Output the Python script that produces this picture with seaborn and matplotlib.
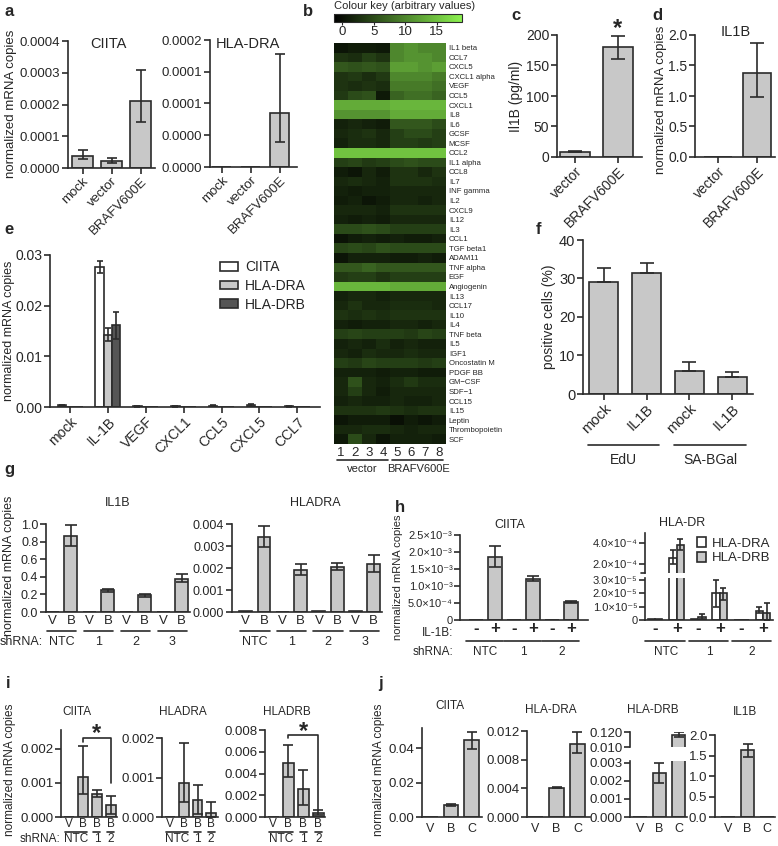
import matplotlib
matplotlib.use('Agg')
import matplotlib.pyplot as plt
from matplotlib.colors import LinearSegmentedColormap
from matplotlib.lines import Line2D
from matplotlib.patches import Patch
from matplotlib.transforms import blended_transform_factory
import seaborn as sns
import pandas as pd

# ---------------- data ----------------
# a
a_groups = ['mock', 'vector', 'BRAFV600E']
a_ciita = [0.000038, 0.000022, 0.00021]
a_ciita_lo = [0.000028, 0.000016, 0.000145]
a_ciita_hi = [0.000057, 0.000031, 0.00031]
a_hladra = [0, 0, 0.000085]
a_hladra_lo = [0, 0, 0.000039]
a_hladra_hi = [0, 0, 0.000178]

# b
b_samples = ['1', '2', '3', '4', '5', '6', '7', '8']
b_genes = ['IL1 beta', 'CCL7', 'CXCL5', 'CXCL1 alpha', 'VEGF', 'CCL5', 'CXCL1', 'IL8',
           'IL6', 'GCSF', 'MCSF', 'CCL2', 'IL1 alpha', 'CCL8', 'IL7', 'INF gamma', 'IL2',
           'CXCL9', 'IL12', 'IL3', 'CCL1', 'TGF beta1', 'ADAM11', 'TNF alpha', 'EGF',
           'Angiogenin', 'IL13', 'CCL17', 'IL10', 'IL4', 'TNF beta', 'IL5', 'IGF1',
           'Oncostatin M', 'PDGF BB', 'GM\u2212CSF', 'SDF\u22121', 'CCL15', 'IL15', 'Leptin',
           'Thrombopoietin', 'SCF']
b_values = [
    [0.5, 1.0, 1.0, 0.8, 10, 11, 10, 10],
    [3, 2.5, 4, 3, 10, 11, 11, 10],
    [6, 5.5, 6, 5.5, 12, 12, 11, 12],
    [3, 3.5, 2.5, 3.5, 10, 10, 10, 9],
    [3, 2.5, 3, 2.5, 9, 9, 9, 8],
    [3.5, 5, 5.5, 0.8, 7, 8, 8, 7],
    [13, 13, 13, 13, 14, 14, 14, 14],
    [11, 11, 11, 11, 13, 13, 13, 13],
    [1.5, 2, 1.5, 1.0, 6, 6, 6, 5],
    [2, 2.5, 3, 2, 4, 5, 5, 4],
    [1.5, 2.5, 2.5, 2, 4, 4, 3.5, 4],
    [15, 15, 15, 15, 15, 15, 15, 15],
    [4, 4.5, 3.5, 4, 5, 5.5, 5, 5],
    [1, 0.5, 2, 1, 3, 3, 2, 3],
    [2, 2.5, 2, 1.5, 3, 3, 3, 2.5],
    [1.5, 1, 1.5, 1.5, 2, 2, 2, 2],
    [1, 1.5, 0.5, 1, 2, 2, 1.5, 2],
    [2, 2, 2, 1.5, 3, 3, 3, 3],
    [1.5, 1, 1.5, 1, 2, 2, 2, 2],
    [5, 5, 5.5, 5, 4, 4, 4, 4],
    [0.3, 1, 1.5, 1, 1.5, 1, 1, 1.5],
    [4.5, 5, 4.5, 5.5, 5, 5, 5, 5],
    [0.5, 1.5, 1.5, 1.5, 1, 1, 1.5, 1],
    [6, 6, 7, 6, 6, 6, 6, 6],
    [3.5, 4, 4, 3, 4, 4, 4, 4],
    [14, 14, 14, 14, 13, 13, 13, 13],
    [1.5, 2, 2, 1.5, 2, 2, 2, 2],
    [2, 3, 2, 2, 2.5, 2.5, 2.5, 2],
    [3, 2.5, 3, 2.5, 3, 3, 3, 3],
    [1.5, 1, 1.5, 1.5, 2, 2, 1.5, 2],
    [4, 4.5, 4, 4, 4, 3.5, 4.5, 4],
    [1.5, 2, 1.5, 2.5, 1.5, 2, 1.5, 1.5],
    [2, 1.5, 2.5, 2, 2, 2.5, 2, 2],
    [4, 3.5, 4.5, 4, 4, 4, 3.5, 4],
    [1.5, 1.5, 1.5, 1, 1.5, 1.5, 1, 1],
    [2, 5.5, 2, 1.5, 2.5, 3.5, 2.5, 2.5],
    [2, 4, 2, 1, 2, 2, 2, 2],
    [1.5, 2, 1.5, 1.5, 2, 1.5, 1.5, 2],
    [3, 3, 3, 3.5, 3, 2.5, 3, 3],
    [0.5, 1, 1, 1, 0, 1, 0.5, 1],
    [2, 2, 2.5, 2.5, 2, 1.5, 2, 2],
    [0.8, 5, 2, 0.5, 1.5, 1.5, 1.5, 1],
]

# c, d
c_groups = ['vector', 'BRAFV600E']
c_vals = [9, 180]
c_lo = [7.5, 161]
c_hi = [10.5, 198]
d_vals = [0, 1.37]
d_lo = [0, 0.99]
d_hi = [0, 1.87]

# e
e_genes = ['mock', 'IL-1B', 'VEGF', 'CXCL1', 'CCL5', 'CXCL5', 'CCL7']
e_targets = ['CIITA', 'HLA-DRA', 'HLA-DRB']
e_ciita = [0.0003, 0.0276, 0.0001, 0.0001, 0.0002, 0.0003, 0.0001]
e_ciita_lo = [0.0002, 0.0264, 0.00005, 0.00005, 0.0001, 0.0002, 0.00005]
e_ciita_hi = [0.0004, 0.0288, 0.00015, 0.00015, 0.0003, 0.0005, 0.00015]
e_hladra = [0, 0.0142, 0, 0, 0, 0, 0]
e_hladra_lo = [0, 0.0130, 0, 0, 0, 0, 0]
e_hladra_hi = [0, 0.0155, 0, 0, 0, 0, 0]
e_hladrb = [0, 0.0162, 0, 0, 0, 0, 0]
e_hladrb_lo = [0, 0.0134, 0, 0, 0, 0, 0]
e_hladrb_hi = [0, 0.0188, 0, 0, 0, 0, 0]

# f
f_cats = ['mock', 'IL1B', 'mock', 'IL1B']
f_assays = ['EdU', 'SA-BGal']
f_vals = [29.2, 31.5, 6.1, 4.5]
f_hi = [32.6, 33.9, 8.4, 5.8]

# g
g_cats = ['V', 'B', 'V', 'B', 'V', 'B', 'V', 'B']
g_shrna = ['NTC', '1', '2', '3']
g_il1b = [0, 0.865, 0, 0.245, 0, 0.19, 0, 0.38]
g_il1b_lo = [0, 0.75, 0, 0.225, 0, 0.17, 0, 0.34]
g_il1b_hi = [0, 0.99, 0, 0.265, 0, 0.21, 0, 0.43]
g_hladra = [0.00003, 0.0034, 0.00002, 0.00193, 0.00004, 0.00205, 0.00004, 0.00217]
g_hladra_lo = [0, 0.00295, 0, 0.0017, 0, 0.0019, 0, 0.0018]
g_hladra_hi = [0, 0.0039, 0, 0.0022, 0, 0.00222, 0, 0.00257]

# h
h_cond = ['-', '+', '-', '+', '-', '+']
h_shrna = ['NTC', '1', '2']
h_ciita = [0.00001, 0.00185, 0.00001, 0.00122, 0.00001, 0.00054]
h_ciita_lo = [0, 0.00155, 0, 0.00116, 0, 0.00051]
h_ciita_hi = [0, 0.00218, 0, 0.00128, 0, 0.00057]
h_targets = ['HLA-DRA', 'HLA-DRB']
h_dra = [4e-7, 2.6e-4, 5e-7, 2.0e-5, 3e-7, 7e-6]
h_dra_lo = [0, 2.0e-4, 0, 1.0e-5, 0, 5e-6]
h_dra_hi = [0, 3.3e-4, 0, 3.0e-5, 0, 9.5e-6]
h_drb = [4e-7, 3.8e-4, 2.5e-6, 2.0e-5, 3e-7, 5.5e-6]
h_drb_lo = [0, 3.3e-4, 0.5e-6, 1.5e-5, 0, 0]
h_drb_hi = [0, 4.4e-4, 4.5e-6, 2.4e-5, 0, 1.3e-5]

# i
i_cats = ['V', 'B', 'B', 'B']
i_ciita = [0.00001, 0.00118, 0.00068, 0.00034]
i_ciita_lo = [0, 0.00068, 0.00058, 0.0001]
i_ciita_hi = [0, 0.00207, 0.00078, 0.00061]
i_hladra = [0, 0.00087, 0.00044, 0.0001]
i_hladra_lo = [0, 0.00038, 0.00008, 0]
i_hladra_hi = [0, 0.00188, 0.0008, 0.00037]
i_hladrb = [0.00001, 0.00495, 0.0026, 0.0004]
i_hladrb_lo = [0, 0.0037, 0.0011, 0.00015]
i_hladrb_hi = [0, 0.0066, 0.0043, 0.00068]

# j
j_cats = ['V', 'B', 'C']
j_ciita = [0, 0.0069, 0.0445]
j_ciita_lo = [0, 0.0065, 0.0394]
j_ciita_hi = [0, 0.0073, 0.0495]
j_dra = [0, 0.0041, 0.0102]
j_dra_lo = [0, 0.0040, 0.0089]
j_dra_hi = [0, 0.0042, 0.0118]
j_drb = [0, 0.00246, 0.098]
j_drb_lo = [0, 0.0019, 0.085]
j_drb_hi = [0, 0.0030, 0.117]
j_il1b = [0, 1.63, 0]
j_il1b_lo = [0, 1.47, 0]
j_il1b_hi = [0, 1.77, 0]

# ---------------- styling ----------------
sns.set_style('ticks')
plt.rcParams['font.family'] = ['Liberation Sans', 'DejaVu Sans']
plt.rcParams['axes.linewidth'] = 1.2
plt.rcParams['axes.edgecolor'] = '#2b2b2b'

INK = '#2b2b2b'
GREY = '#c8c8c8'
W, H = 778, 846
fig = plt.figure(figsize=(W / 100, H / 100), dpi=100)


def box(x0, y0, x1, y1):
    return fig.add_axes([x0 / W, 1 - y1 / H, (x1 - x0) / W, (y1 - y0) / H])


def ftext(x, y, s, **kw):
    kw.setdefault('ha', 'center')
    kw.setdefault('va', 'center')
    fig.text(x / W, 1 - y / H, s, **kw)


def fline(xs, ys, lw=1.2):
    fig.add_artist(Line2D([x / W for x in xs], [1 - y / H for y in ys], color=INK, lw=lw))


def xtext(ax, x, ypx, s, **kw):
    tr = blended_transform_factory(ax.transData, fig.transFigure)
    kw.setdefault('ha', 'center')
    kw.setdefault('va', 'center')
    ax.text(x, 1 - ypx / H, s, transform=tr, **kw)


def xline(ax, x0, x1, ypx, lw=1.2):
    tr = blended_transform_factory(ax.transData, fig.transFigure)
    ax.plot([x0, x1], [1 - ypx / H] * 2, transform=tr, color=INK, lw=lw, clip_on=False)


def style(ax, fs=10, xfs=None, xlen=4, xpad=1.5):
    sns.despine(ax=ax)
    ax.set_xlabel('')
    ax.set_ylabel('')
    ax.tick_params(axis='both', direction='out', length=4, width=1.2, color=INK, pad=1.5)
    ax.tick_params(axis='y', labelsize=fs)
    ax.tick_params(axis='x', labelsize=xfs or fs, length=xlen, pad=xpad)


def errbars(ax, xs, vals, lo, hi, cap=3.5, up_only=False, vrange=None):
    # vrange: only draw bars whose mean lies in this value window (broken axes)
    for x, v, l, h in zip(xs, vals, lo, hi):
        if h <= l:
            continue
        if vrange is not None and not (vrange[0] <= v <= vrange[1]):
            continue
        down = 0 if up_only else v - l
        ax.errorbar([x], [v], yerr=[[down], [h - v]], fmt='none', ecolor=INK,
                    elinewidth=1.2, capsize=cap, capthick=1.2, zorder=5,
                    clip_on=vrange is not None)


def bars(ax, vals, lo=None, hi=None, width=0.7, cap=3.5, up_only=False, vrange=None):
    n = len(vals)
    sns.barplot(x=list(range(n)), y=vals, color=GREY, edgecolor=INK, linewidth=1.2,
                width=width, errorbar=None, saturation=1, ax=ax)
    if hi is not None:
        errbars(ax, range(n), vals, lo, hi, cap, up_only, vrange)


def rot_labels(ax, labels):
    ax.set_xticks(range(len(labels)))
    ax.set_xticklabels(labels, rotation=45, ha='right', rotation_mode='anchor')


panel = dict(fontsize=12, fontweight='bold', ha='center', va='center')
ylab = dict(rotation=90, ha='center', va='center')
star = dict(fontsize=17, fontweight='bold')

# ---------------- a ----------------
ax = box(68, 41, 155, 168)
bars(ax, a_ciita, a_ciita_lo, a_ciita_hi, width=0.72)
ax.set_ylim(0, 0.0004)
ax.set_yticks([0, 0.0001, 0.0002, 0.0003, 0.0004])
ax.set_yticklabels(['0.0000', '0.0001', '0.0002', '0.0003', '0.0004'])
ax.set_xlim(-0.5, 2.5)
rot_labels(ax, a_groups)
style(ax, 9.5)
ftext(108, 44, 'CIITA', fontsize=10.5)

ax = box(210, 40, 297, 167)
bars(ax, a_hladra, a_hladra_lo, a_hladra_hi, width=0.66)
ax.set_ylim(0, 0.0002)
ax.set_yticks([0, 0.00005, 0.0001, 0.00015, 0.0002])
ax.set_yticklabels(['0.0000', '0.0000', '0.0001', '0.0001', '0.0002'])
ax.set_xlim(-0.41, 2.59)
rot_labels(ax, a_groups)
style(ax, 9.5)
ftext(248, 44, 'HLA-DRA', fontsize=10.5)
ftext(11, 104, 'normalized mRNA copies', fontsize=9.5, **ylab)
ftext(9, 12, 'a', **panel)

# ---------------- b ----------------
cmap = LinearSegmentedColormap.from_list('key', ['#000000', '#8cf250'])
hax = box(334, 43, 446, 444)
cax = box(334, 14, 462, 22)
heat = pd.DataFrame(b_values, index=b_genes, columns=b_samples)
sns.heatmap(heat, cmap=cmap, vmin=-1.3, vmax=19, ax=hax, cbar_ax=cax,
            cbar_kws={'orientation': 'horizontal', 'ticks': [0, 5, 10, 15]},
            xticklabels=True, yticklabels=True)
hax.yaxis.tick_right()
hax.tick_params(axis='y', length=0, labelsize=5.6, pad=2, labelrotation=0)
hax.tick_params(axis='x', length=0, labelsize=9.5, pad=2, labelrotation=0)
hax.set_xlabel('')
hax.set_ylabel('')
cax.tick_params(length=2, labelsize=9.5, pad=1)
cbar = hax.collections[0].colorbar
cbar.outline.set_edgecolor(INK)
cbar.outline.set_linewidth(0.8)
xline(hax, 0.2, 3.85, 460)
xline(hax, 4.15, 7.8, 460)
xtext(hax, 2.0, 469, 'vector', fontsize=8)
xtext(hax, 6.0, 469, 'BRAFV600E', fontsize=8)
ftext(334, 6, 'Colour key (arbitrary values)', fontsize=8, ha='left')
ftext(308, 11, 'b', **panel)

# ---------------- c ----------------
ax = box(557, 35, 642, 157)
bars(ax, c_vals, c_lo, c_hi, width=0.7, cap=5)
ax.set_ylim(0, 200)
ax.set_yticks([0, 50, 100, 150, 200])
ax.set_xlim(-0.42, 1.56)
rot_labels(ax, c_groups)
style(ax, 10)
xtext(ax, 1, 29, '*', **star)
ftext(516, 96, 'Il1B (pg/ml)', fontsize=10, **ylab)
ftext(516, 15, 'c', **panel)

# ---------------- d ----------------
ax = box(695, 35, 775, 157)
bars(ax, d_vals, d_lo, d_hi, width=0.7, cap=5)
ax.set_ylim(0, 2.0)
ax.set_yticks([0, 0.5, 1.0, 1.5, 2.0])
ax.set_yticklabels(['0.0', '0.5', '1.0', '1.5', '2.0'])
ax.set_xlim(-0.59, 1.46)
rot_labels(ax, c_groups)
style(ax, 10)
ftext(736, 32, 'IL1B', fontsize=10.5)
ftext(661, 100, 'normalized mRNA copies', fontsize=9.5, **ylab)
ftext(657, 15, 'd', **panel)

# ---------------- e ----------------
ax = box(50, 255, 320, 407)
e_colors = {'CIITA': '#ffffff', 'HLA-DRA': GREY, 'HLA-DRB': '#555555'}
e_df = pd.DataFrame({
    'gene': e_genes * 3,
    'target': [t for t in e_targets for _ in e_genes],
    'value': e_ciita + e_hladra + e_hladrb,
})
e_width = 0.66
sns.barplot(data=e_df, x='gene', y='value', hue='target', hue_order=e_targets,
            palette=e_colors, edgecolor=INK, linewidth=1.2, width=e_width,
            errorbar=None, saturation=1, legend=False, ax=ax)
e_series = [(e_ciita, e_ciita_lo, e_ciita_hi), (e_hladra, e_hladra_lo, e_hladra_hi),
            (e_hladrb, e_hladrb_lo, e_hladrb_hi)]
for k, (v, lo, hi) in enumerate(e_series):
    errbars(ax, [i + (k - 1) * e_width / 3 for i in range(len(e_genes))], v, lo, hi, cap=2.5)
ax.set_ylim(0, 0.03)
ax.set_yticks([0, 0.01, 0.02, 0.03])
ax.set_yticklabels(['0.00', '0.01', '0.02', '0.03'])
ax.set_xlim(-0.53, 6.6)
rot_labels(ax, e_genes)
style(ax, 10)
handles = [Patch(facecolor=e_colors[t], edgecolor=INK, linewidth=1.2) for t in e_targets]
ax.legend(handles, e_targets, loc='upper left', bbox_to_anchor=(220 / W, 1 - 260 / H),
          bbox_transform=fig.transFigure, frameon=False, fontsize=10, handlelength=1.3,
          handleheight=0.6, handletextpad=0.5, labelspacing=0.35, borderpad=0,
          borderaxespad=0)
ftext(9, 331, 'normalized mRNA copies', fontsize=9, **ylab)
ftext(9, 229, 'e', **panel)

# ---------------- f ----------------
ax = box(583, 240, 753, 394)
bars(ax, f_vals, f_vals, f_hi, width=0.68, cap=5, up_only=True)
ax.set_ylim(0, 40)
ax.set_yticks([0, 10, 20, 30, 40])
ax.set_xlim(-0.49, 3.49)
rot_labels(ax, f_cats)
style(ax, 10.5)
xline(ax, -0.37, 1.28, 445)
xline(ax, 1.63, 3.33, 445)
xtext(ax, 0.45, 460, f_assays[0], fontsize=10)
xtext(ax, 2.5, 460, f_assays[1], fontsize=10)
ftext(549, 317, 'positive cells (%)', fontsize=10, **ylab)
ftext(538, 229, 'f', **panel)

# ---------------- g ----------------
ax = box(46, 524, 190, 612)
bars(ax, g_il1b, g_il1b_lo, g_il1b_hi, width=0.7, cap=4)
ax.set_ylim(0, 1.0)
ax.set_yticks([0, 0.2, 0.4, 0.6, 0.8, 1.0])
ax.set_yticklabels(['0.0', '0.2', '0.4', '0.6', '0.8', '1.0'])
ax.set_xlim(-0.35, 7.45)
ax.set_xticks(range(8))
ax.set_xticklabels(g_cats)
style(ax, 9, 9.5, xlen=0, xpad=2)
for k in range(4):
    xline(ax, 2 * k - 0.3, 2 * k + 1.3, 631)
    xtext(ax, 2 * k + 0.5, 642, g_shrna[k], fontsize=9)
xtext(ax, -0.5, 642, 'shRNA:', fontsize=9, ha='right')
ftext(118, 503, 'IL1B', fontsize=9)

ax = box(232, 524, 382, 612)
bars(ax, g_hladra, g_hladra_lo, g_hladra_hi, width=0.7, cap=4)
ax.set_ylim(0, 0.004)
ax.set_yticks([0, 0.001, 0.002, 0.003, 0.004])
ax.set_yticklabels(['0.000', '0.001', '0.002', '0.003', '0.004'])
ax.set_xlim(-0.75, 7.45)
ax.set_xticks(range(8))
ax.set_xticklabels(g_cats)
style(ax, 9, 9.5, xlen=0, xpad=2)
for k in range(4):
    xline(ax, 2 * k - 0.3, 2 * k + 1.3, 631)
    xtext(ax, 2 * k + 0.5, 642, g_shrna[k], fontsize=9)
ftext(315, 503, 'HLADRA', fontsize=9)
ftext(9, 566, 'normalized mRNA copies', fontsize=9, **ylab)
ftext(9, 469, 'g', **panel)

# ---------------- h ----------------
sup = ['0', '5.0\u00d710\u207b\u2074', '1.0\u00d710\u207b\u00b3', '1.5\u00d710\u207b\u00b3',
       '2.0\u00d710\u207b\u00b3', '2.5\u00d710\u207b\u00b3']
ax = box(460, 535, 588, 620)
bars(ax, h_ciita, h_ciita_lo, h_ciita_hi, width=0.74, cap=4)
ax.set_ylim(0, 0.0025)
ax.set_yticks([0, 0.0005, 0.001, 0.0015, 0.002, 0.0025])
ax.set_yticklabels(sup)
ax.set_xlim(-0.84, 5.9)
ax.set_xticks(range(6))
ax.set_xticklabels(h_cond, fontweight='bold')
style(ax, 8, 12, xlen=0, xpad=1)
for k in range(3):
    xline(ax, 2 * k - 0.5, 2 * k + 1.4, 641)
    xtext(ax, 2 * k + 0.5, 652, h_shrna[k], fontsize=8.5)
xtext(ax, -1.2, 633, 'IL-1B:', fontsize=8.5, ha='right')
xtext(ax, -1.2, 652, 'shRNA:', fontsize=8.5, ha='right')
ftext(510, 525, 'CIITA', fontsize=9)

h_df = pd.DataFrame({
    'pos': list(range(6)) * 2,
    'target': [t for t in h_targets for _ in range(6)],
    'value': h_dra + h_drb,
})
h_colors = {'HLA-DRA': '#ffffff', 'HLA-DRB': GREY}
h_width = 0.68
h_series = [(h_dra, h_dra_lo, h_dra_hi), (h_drb, h_drb_lo, h_drb_hi)]
h_up_lim = (1.14e-4, 4.95e-4)
h_lo_lim = (0, 3.15e-5)
ax_up = box(645, 533, 773, 573)
ax_lo = box(645, 578, 773, 620)
for a_, lim in ((ax_up, h_up_lim), (ax_lo, h_lo_lim)):
    sns.barplot(data=h_df, x='pos', y='value', hue='target', hue_order=h_targets,
                palette=h_colors, edgecolor=INK, linewidth=1.2, width=h_width,
                errorbar=None, saturation=1, legend=False, ax=a_)
    for k, (v, lo, hi) in enumerate(h_series):
        errbars(a_, [i + (k - 0.5) * h_width / 2 for i in range(6)], v, lo, hi, cap=2.5,
                vrange=lim)
    a_.set_xlim(-0.47, 5.47)
    a_.set_ylim(*lim)
ax_up.set_yticks([2e-4, 4e-4])
ax_up.set_yticklabels(['2.0\u00d710\u207b\u2074', '4.0\u00d710\u207b\u2074'])
style(ax_up, 8)
sns.despine(ax=ax_up, bottom=True)
ax_up.set_xticks([])
ax_lo.set_yticks([0, 1e-5, 2e-5, 3e-5])
ax_lo.set_yticklabels(['0', '1.0\u00d710\u207b\u2075', '2.0\u00d710\u207b\u2075', '3.0\u00d710\u207b\u2075'])
ax_lo.set_xticks(range(6))
ax_lo.set_xticklabels(h_cond, fontweight='bold')
style(ax_lo, 8, 12, xlen=0, xpad=1)
fline([641, 645], [573, 573])
for k in range(3):
    xline(ax_lo, 2 * k - 0.45, 2 * k + 1.4, 641)
    xtext(ax_lo, 2 * k + 0.5, 652, h_shrna[k], fontsize=8.5)
h_handles = [Patch(facecolor=h_colors[t], edgecolor=INK, linewidth=1.2) for t in h_targets]
ax_up.legend(h_handles, h_targets, loc='upper left', bbox_to_anchor=(697 / W, 1 - 537 / H),
             bbox_transform=fig.transFigure, frameon=False, fontsize=9.5, handlelength=0.7,
             handleheight=0.8, handletextpad=0.4, labelspacing=0.15, borderpad=0,
             borderaxespad=0)
ftext(682, 523, 'HLA-DR', fontsize=9)
ftext(398, 577, 'normalized mRNA copies', fontsize=8, **ylab)
ftext(400, 508, 'h', **panel)

# ---------------- i ----------------
i_sets = [
    ((61, 730, 117, 817), i_ciita, i_ciita_lo, i_ciita_hi, 0.00255, [0, 0.001, 0.002],
     ['0.000', '0.001', '0.002'], (-0.57, 3.43), 'CIITA', 77),
    ((162, 738, 218, 817), i_hladra, i_hladra_lo, i_hladra_hi, 0.002, [0, 0.001, 0.002],
     ['0.000', '0.001', '0.002'], (-0.6, 3.5), 'HLADRA', 183),
    ((265, 730, 325, 817), i_hladrb, i_hladrb_lo, i_hladrb_hi, 0.008,
     [0, 0.002, 0.004, 0.006, 0.008], ['0.000', '0.002', '0.004', '0.006', '0.008'],
     (-0.55, 3.45), 'HLADRB', 287),
]
i_axes = []
for bx, v, lo, hi, top, ticks, tl, xl, title, tx in i_sets:
    ax = box(*bx)
    bars(ax, v, lo, hi, width=0.7, cap=3.5)
    ax.set_ylim(0, top)
    ax.set_yticks(ticks)
    ax.set_yticklabels(tl)
    ax.set_xlim(*xl)
    ax.set_xticks(range(4))
    ax.set_xticklabels(i_cats)
    style(ax, 9.5, 8.5, xlen=0, xpad=1)
    xline(ax, -0.3, 1.3, 832)
    xline(ax, 1.75, 2.25, 832)
    xline(ax, 2.75, 3.25, 832)
    xtext(ax, 0.5, 839, 'NTC', fontsize=8.5)
    xtext(ax, 2, 839, '1', fontsize=8.5)
    xtext(ax, 3, 839, '2', fontsize=8.5)
    ftext(tx, 712, title, fontsize=8.5)
    i_axes.append(ax)
xtext(i_axes[0], -0.6, 839, 'shRNA:', fontsize=8.5, ha='right')
i_axes[0].plot([1, 1, 3, 3], [0.0022, 0.00231, 0.00231, 0.001], color=INK, lw=1.2, clip_on=False)
xtext(i_axes[0], 2, 734, '*', **star)
i_axes[2].plot([1, 1, 3, 3], [0.0073, 0.00754, 0.00754, 0.00064], color=INK, lw=1.2, clip_on=False)
xtext(i_axes[2], 2, 732, '*', **star)
ftext(10, 770, 'normalized mRNA copies', fontsize=8.5, **ylab)
ftext(8, 683, 'i', **panel)

# ---------------- j ----------------
j_sets = [
    ((422, 728, 482, 817), j_ciita, j_ciita_lo, j_ciita_hi, 0.0516, [0, 0.02, 0.04],
     ['0.00', '0.02', '0.04'], (-0.4, 2.5), 'CIITA', 450, 706),
    ((527, 731, 590, 817), j_dra, j_dra_lo, j_dra_hi, 0.012, [0, 0.004, 0.008, 0.012],
     ['0.000', '0.004', '0.008', '0.012'], (-0.41, 2.6), 'HLA-DRA', 551, 710),
    ((715, 735, 775, 817), j_il1b, j_il1b_lo, j_il1b_hi, 2.0, [0, 0.5, 1.0, 1.5, 2.0],
     ['0.0', '0.5', '1.0', '1.5', '2.0'], (-0.67, 2.4), 'IL1B', 745, 712),
]
for bx, v, lo, hi, top, ticks, tl, xl, title, tx, ty in j_sets:
    ax = box(*bx)
    bars(ax, v, lo, hi, width=0.7, cap=3.5)
    ax.set_ylim(0, top)
    ax.set_yticks(ticks)
    ax.set_yticklabels(tl)
    ax.set_xlim(*xl)
    ax.set_xticks(range(3))
    ax.set_xticklabels(j_cats)
    style(ax, 9.5, 9, xlen=0, xpad=4)
    ftext(tx, ty, title, fontsize=8.5)

j_up_lim = (0.010, 0.120)
j_lo_lim = (0, 0.0031)
ax_up = box(630, 732, 687, 747)
ax_lo = box(630, 761, 687, 817)
for a_, lim in ((ax_up, j_up_lim), (ax_lo, j_lo_lim)):
    bars(a_, j_drb, j_drb_lo, j_drb_hi, width=0.7, cap=3.5, vrange=lim)
    a_.set_xlim(-0.52, 2.44)
    a_.set_ylim(*lim)
ax_up.set_yticks([0.010, 0.120])
ax_up.set_yticklabels(['0.010', '0.120'])
style(ax_up, 9.5)
sns.despine(ax=ax_up, bottom=True)
ax_up.set_xticks([])
ax_lo.set_yticks([0, 0.001, 0.002, 0.003])
ax_lo.set_yticklabels(['0.000', '0.001', '0.002', '0.003'])
ax_lo.set_xticks(range(3))
ax_lo.set_xticklabels(j_cats)
style(ax_lo, 9.5, 9, xlen=0, xpad=4)
ftext(653, 710, 'HLA-DRB', fontsize=8.5)
ftext(379, 770, 'normalized mRNA copies', fontsize=8.5, **ylab)
ftext(380, 683, 'j', **panel)

fig.savefig('out.png', dpi=100)
